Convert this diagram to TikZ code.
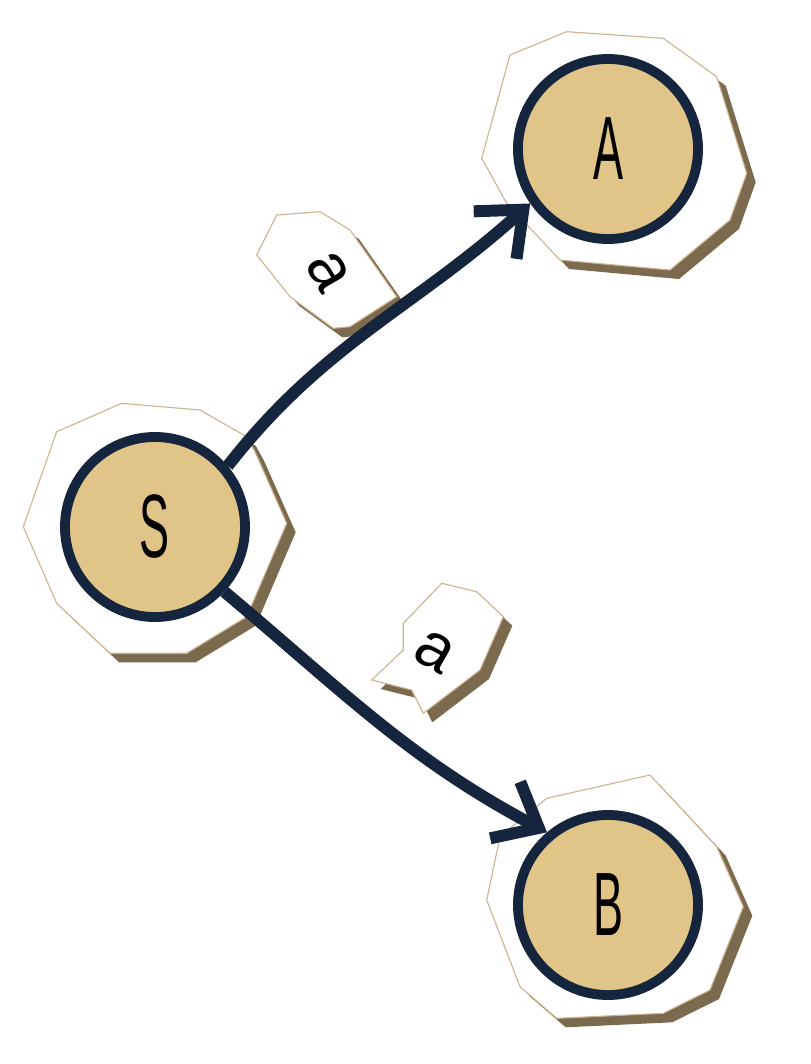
\documentclass[tikz,border=0pt]{standalone}
\usepackage{fontspec}
\setmainfont{Liberation Sans}
\usepackage{tikz}
\usetikzlibrary{arrows.meta,positioning}
\definecolor{nodefill}{HTML}{E1C487}
\definecolor{navy}{HTML}{15253D}
\definecolor{shadowbrown}{HTML}{7C6A4E}
\definecolor{paperedge}{HTML}{CDB48E}

\begin{document}
\begin{tikzpicture}[x=0.025cm,y=-0.025cm,
	state node/.style={circle, draw=navy, line width=7pt, fill=nodefill, text=black, minimum size=4.5cm, inner sep=0pt, font=\fontsize{64}{64}\selectfont},
	edge label/.style={text=black, inner sep=0pt, font=\fontsize{46}{46}\selectfont},
	paper/.style={fill=white, draw=paperedge, line width=0.8pt},
	paper shadow/.style={fill=shadowbrown, shift={(9,9)}},
	trans edge/.style={line width=8.5pt, navy, -{Straight Barb[length=0.95cm, width=1.6cm]}}]
	\useasboundingbox (0,0) rectangle (810,1064);
	
	% torn paper behind the states
	\fill[paper shadow] (56.7,431.7) -- (121.7,403.3) -- (200,410) -- (246.7,436.7) -- (255,451.7) -- (286.7,523.3) -- (246.7,616.7) -- (186.7,653.3) -- (110,653.3) -- (56.7,603.3) -- (23.3,526.7) -- cycle;
	\draw[paper] (56.7,431.7) -- (121.7,403.3) -- (200,410) -- (246.7,436.7) -- (255,451.7) -- (286.7,523.3) -- (246.7,616.7) -- (186.7,653.3) -- (110,653.3) -- (56.7,603.3) -- (23.3,526.7) -- cycle;
	\fill[paper shadow] (510,55) -- (566.7,31.7) -- (663.3,38.3) -- (716.7,76.7) -- (746.7,173.3) -- (730,220) -- (670,270) -- (560,260) -- (506.7,203.3) -- (481.7,158.3) -- cycle;
	\draw[paper] (510,55) -- (566.7,31.7) -- (663.3,38.3) -- (716.7,76.7) -- (746.7,173.3) -- (730,220) -- (670,270) -- (560,260) -- (506.7,203.3) -- (481.7,158.3) -- cycle;
	\fill[paper shadow] (500,836.7) -- (546.7,798.3) -- (650,775) -- (716.7,846.7) -- (743.3,906.7) -- (710,990) -- (663.3,1013.3) -- (556.7,1018.3) -- (520,986.7) -- (486.7,900) -- cycle;
	\draw[paper] (500,836.7) -- (546.7,798.3) -- (650,775) -- (716.7,846.7) -- (743.3,906.7) -- (710,990) -- (663.3,1013.3) -- (556.7,1018.3) -- (520,986.7) -- (486.7,900) -- cycle;
	
	% torn paper behind the labels
	\fill[paper shadow] (276.7,215) -- (320,211.7) -- (350,230) -- (396.7,296.7) -- (350,326.7) -- (333.3,328.3) -- (290,296.7) -- (256.7,255) -- cycle;
	\draw[paper] (276.7,215) -- (320,211.7) -- (350,230) -- (396.7,296.7) -- (350,326.7) -- (333.3,328.3) -- (290,296.7) -- (256.7,255) -- cycle;
	\fill[paper shadow] (441.7,583.3) -- (476.7,591.7) -- (503.3,616.7) -- (480,670) -- (423.3,713.3) -- (411.7,690) -- (371.7,680) -- (403.3,650) -- (403.3,623.3) -- cycle;
	\draw[paper] (441.7,583.3) -- (476.7,591.7) -- (503.3,616.7) -- (480,670) -- (423.3,713.3) -- (411.7,690) -- (371.7,680) -- (403.3,650) -- (403.3,623.3) -- cycle;
	
	\node[state node] (S) at (155,527) {\scalebox{0.5}[1]{S}};
	\node[state node] (A) at (608,149) {\scalebox{0.5}[1]{A}};
	\node[state node] (B) at (608,905) {\scalebox{0.5}[1]{B}};
	
	\node[edge label, rotate=-60] (la) at (328,272) {a};
	\node[edge label, rotate=-30] (lb) at (435,652) {a};
	
	\path
	(S.40) edge [trans edge, out=52, in=222] (A.215)
	(S.-43) edge [trans edge, out=-40, in=152] (B.130);
	
\end{tikzpicture}
\end{document}
